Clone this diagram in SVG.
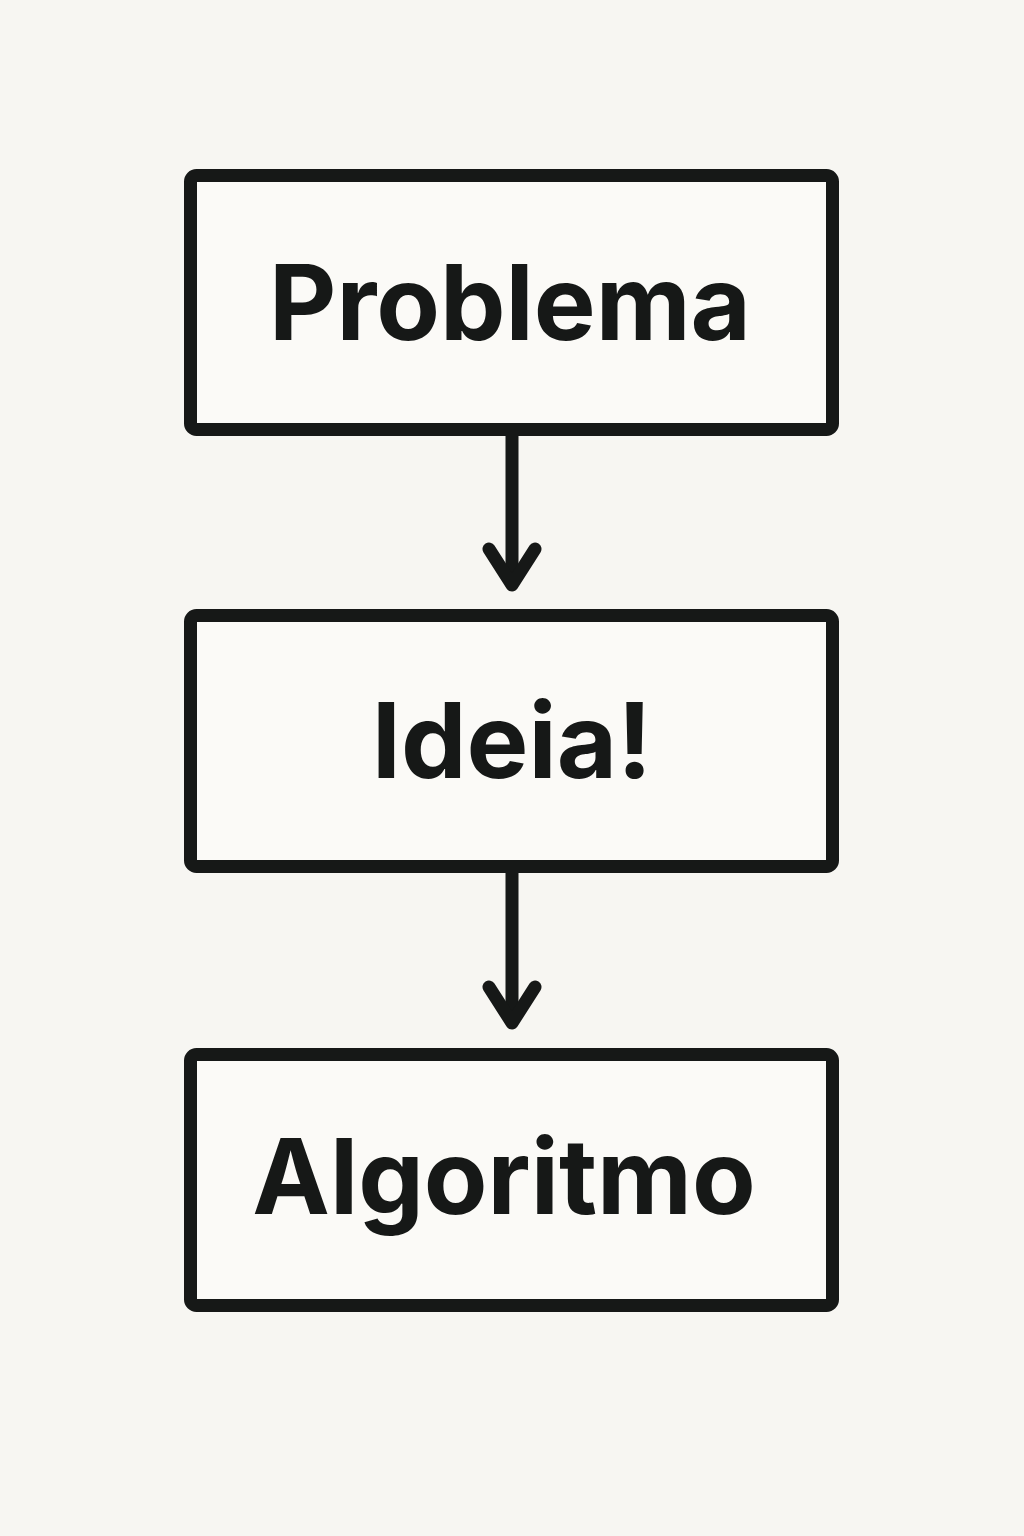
<svg xmlns="http://www.w3.org/2000/svg" width="1024" height="1536" viewBox="0 0 1024 1536">
<style>
.box{fill:#fbfaf7;stroke:#161817;stroke-width:13}
.lbl{font-family:Inter,"Liberation Sans",sans-serif;font-weight:700;font-size:104px;fill:#161817;text-anchor:middle}
.con{fill:none;stroke:#161817;stroke-width:13;stroke-linecap:round;stroke-linejoin:round}
</style>
<rect width="1024" height="1536" fill="#f7f6f2"/>
<g id="connectors">
<line class="con" x1="512" y1="432" x2="512" y2="584"/>
<polyline class="con" points="489,549 512,585 535,549"/>
<line class="con" x1="512" y1="870" x2="512" y2="1022"/>
<polyline class="con" points="489,987 512,1023 535,987"/>
</g>
<g id="problema">
<rect class="box" x="190.5" y="175.5" width="642" height="254" rx="6"/>
<text class="lbl" x="510" y="340">Problema</text>
</g>
<g id="ideia">
<rect class="box" x="190.5" y="615.5" width="642" height="251" rx="6"/>
<text class="lbl" x="512" y="778">Ideia!</text>
</g>
<g id="algoritmo">
<rect class="box" x="190.5" y="1054.5" width="642" height="251" rx="6"/>
<text class="lbl" x="504" y="1214">Algoritmo</text>
</g>
</svg>
